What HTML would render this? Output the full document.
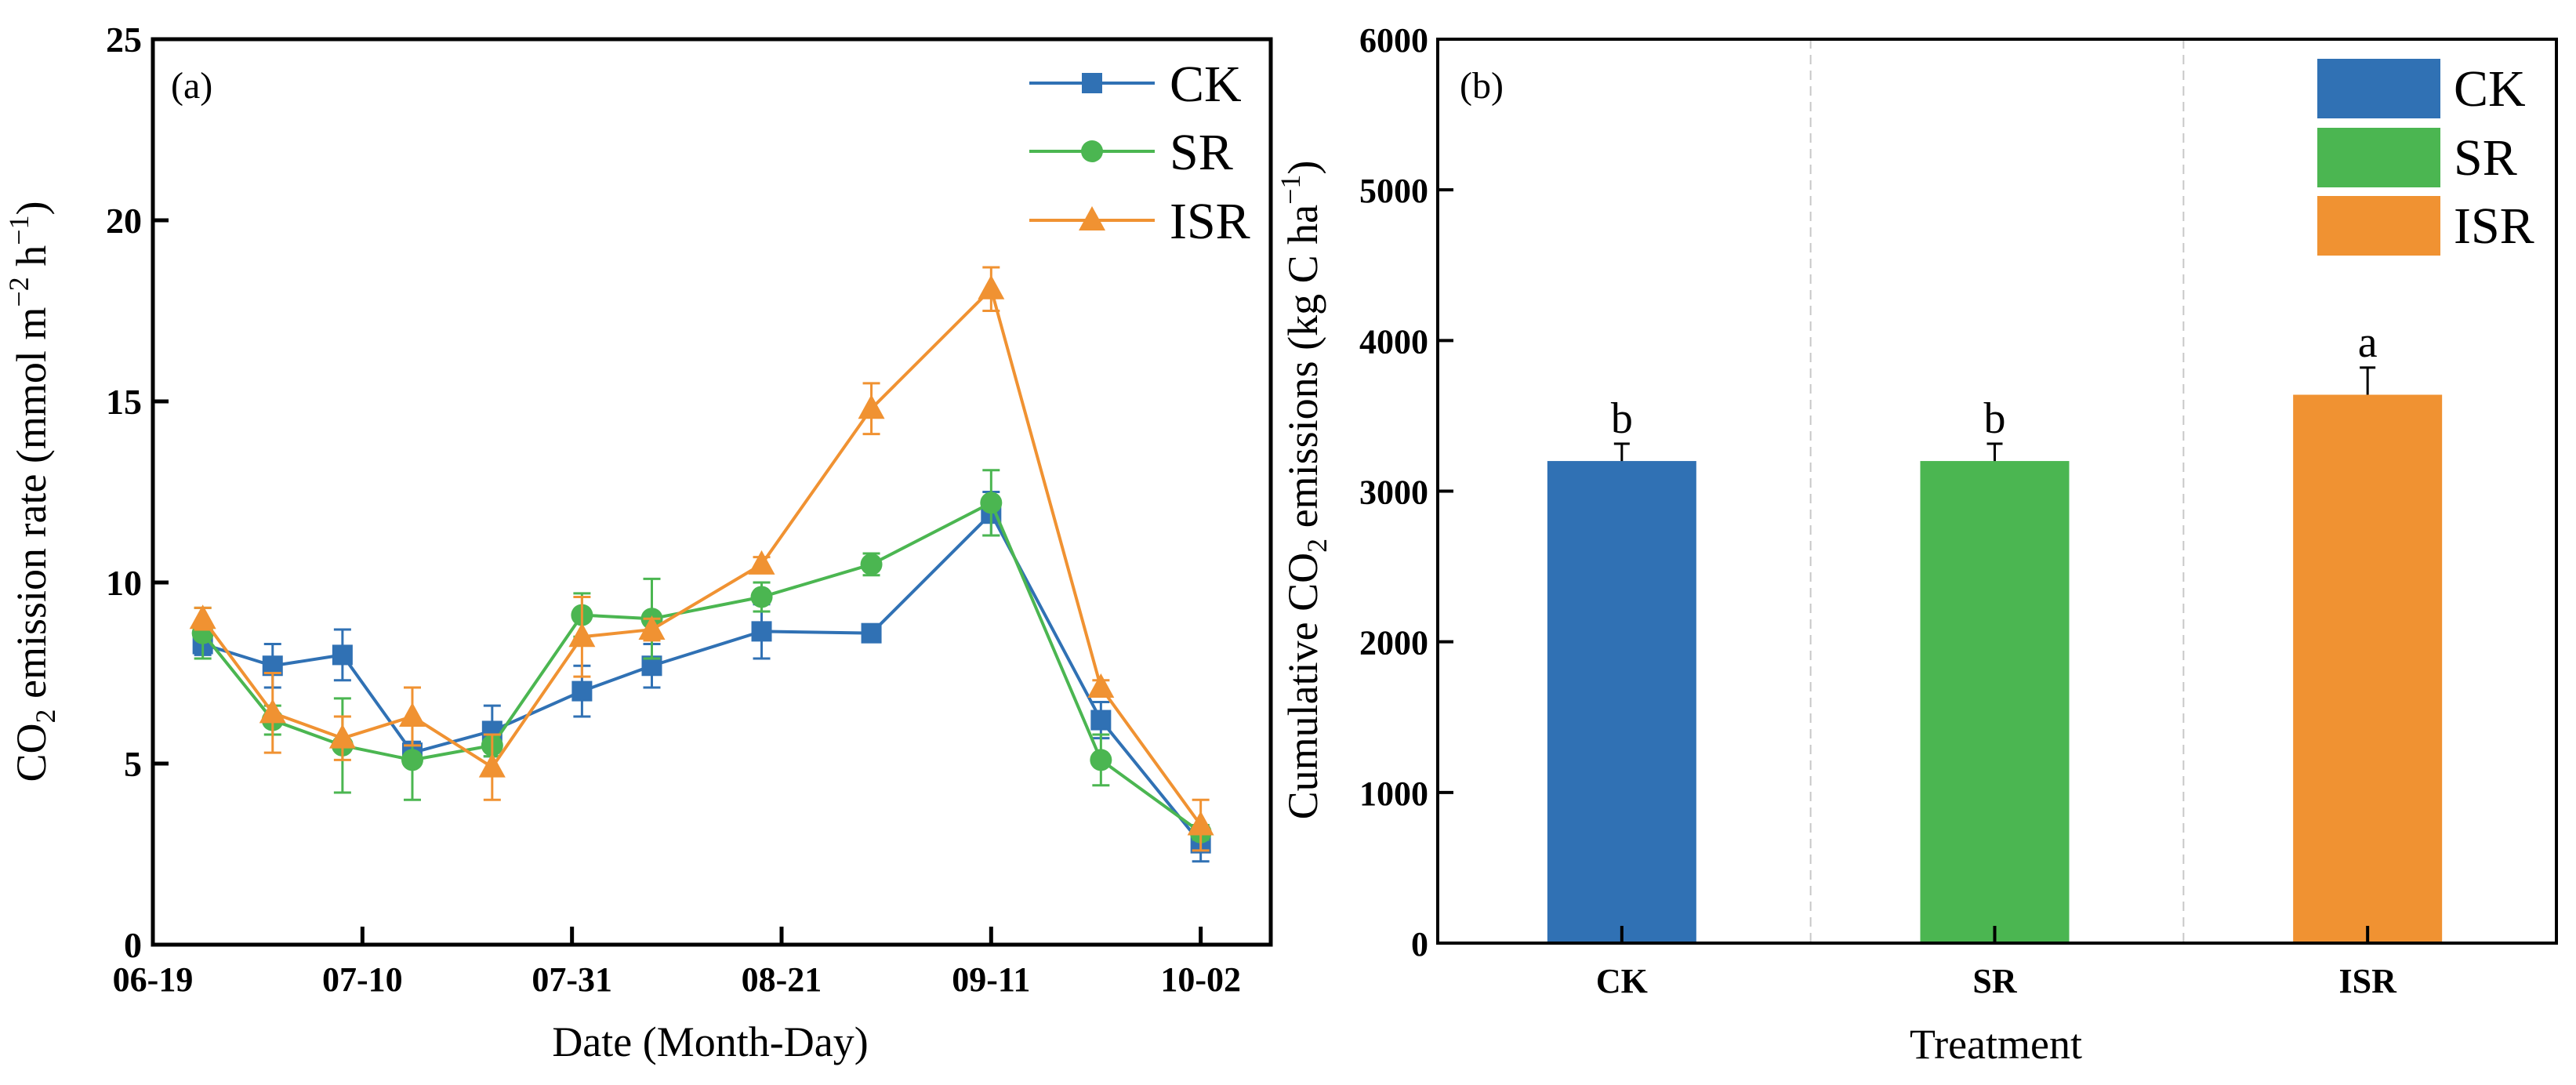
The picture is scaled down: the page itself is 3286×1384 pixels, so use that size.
<!DOCTYPE html>
<html><head><meta charset="utf-8"><style>
html,body{margin:0;padding:0;background:#fff;}
svg{display:block;font-family:"Liberation Serif",serif;}
</style></head><body>
<svg id="fig" width="3286" height="1384" viewBox="0 0 3286 1384" xmlns="http://www.w3.org/2000/svg">
<rect width="3286" height="1384" fill="#fff"/>
<g id="left"></g>
<g id="right"></g>
</svg>
<script>
// ---- Panel (a) data ----
const days = [5, 12, 19, 26, 34, 43, 50, 61, 72, 84, 95, 105];
const xTickLabels = ["06-19", "07-10", "07-31", "08-21", "09-11", "10-02"];
const xTickDays = [0, 21, 42, 63, 84, 105];
const yTicksA = [0, 5, 10, 15, 20, 25];
const ckVals = [8.3, 7.7, 8.0, 5.3, 5.9, 7.0, 7.7, 8.65, 8.6, 11.9, 6.2, 2.8];
const ckErr = [0.3, 0.6, 0.7, 0.3, 0.7, 0.7, 0.6, 0.75, 0.1, 0.6, 0.5, 0.5];
const srVals = [8.6, 6.2, 5.5, 5.1, 5.5, 9.1, 9.0, 9.6, 10.5, 12.2, 5.1, 3.1];
const srErr = [0.7, 0.4, 1.3, 1.1, 0.3, 0.6, 1.1, 0.4, 0.3, 0.9, 0.7, 0.2];
const isrVals = [9.0, 6.4, 5.7, 6.3, 4.9, 8.5, 8.7, 10.5, 14.8, 18.1, 7.1, 3.3];
const isrErr = [0.3, 1.1, 0.6, 0.8, 0.9, 1.1, 0.3, 0.2, 0.7, 0.6, 0.2, 0.7];
// ---- Panel (b) data ----
const treatments = ["CK", "SR", "ISR"];
const cumVals = [3200, 3200, 3640];
const cumErr = [115, 115, 180];
const cumLetters = ["b", "b", "a"];
const yTicksB = [0, 1000, 2000, 3000, 4000, 5000, 6000];

const NS = "http://www.w3.org/2000/svg";
const BLUE = "#3071b4", GREEN = "#4bb651", ORANGE = "#f09232";
function mk(parent, tag, attrs, text) {
  const e = document.createElementNS(NS, tag);
  for (const k in attrs) e.setAttribute(k, attrs[k]);
  if (text !== undefined) e.textContent = text;
  parent.appendChild(e);
  return e;
}
const L = document.getElementById("left");
const R = document.getElementById("right");

// ---- Panel (a) axes ----
const aL = 195, aR = 1621, aT = 50, aB = 1205;
const pxPerDay = 12.73;
const xA = d => aL + d * pxPerDay;
const yA = v => aB - (v / 25) * (aB - aT);

let fr = mk(L, "rect", {x: aL, y: aT, width: aR - aL, height: aB - aT, fill: "none", stroke: "#000", "stroke-width": 5});



yTicksA.forEach(v => {
  const t = mk(L, "line", {x1: aL, x2: aL + 20, y1: yA(v), y2: yA(v), stroke: "#000", "stroke-width": 5});
  
  
  const lb = mk(L, "text", {x: aL - 14, y: yA(v) + 16, "text-anchor": "end", "font-size": 46, "font-weight": "bold"}, String(v));
  
  
});
xTickDays.forEach((d, i) => {
  if (i > 0) {
    const t = mk(L, "line", {x1: xA(d), x2: xA(d), y1: aB, y2: aB - 23, stroke: "#000", "stroke-width": 5});
    
    
  }
  const lb = mk(L, "text", {x: xA(d), y: 1264, "text-anchor": "middle", "font-size": 44, "font-weight": "bold"}, xTickLabels[i]);
  
  
});

let xt = mk(L, "text", {x: 906, y: 1347, "text-anchor": "middle", "font-size": 54}, "Date (Month-Day)");


let yt = mk(L, "text", {transform: "translate(58,627) rotate(-90)", "text-anchor": "middle", "font-size": 54});


yt.innerHTML = 'CO<tspan font-size="36" dy="12">2</tspan><tspan dy="-12"> emission rate (mmol m</tspan><tspan font-size="36" dy="-22">−2</tspan><tspan dy="22"> h</tspan><tspan font-size="36" dy="-22">−1</tspan><tspan dy="22">)</tspan>';
let pa = mk(L, "text", {x: 218, y: 125, "font-size": 48}, "(a)");



function marker(g, shape, cx, cy, color) {
  if (shape === "sq") return mk(g, "rect", {x: cx - 13, y: cy - 13, width: 26, height: 26, fill: color});
  if (shape === "ci") return mk(g, "circle", {cx: cx, cy: cy, r: 14, fill: color});
  return mk(g, "polygon", {points: `${cx},${cy - 18} ${cx - 17},${cy + 13} ${cx + 17},${cy + 13}`, fill: color});
}
function series(name, vals, errs, color, shape) {
  const g = mk(L, "g", {});
  
  
  vals.forEach((v, i) => {
    const x = xA(days[i]), e = errs[i];
    const eb = mk(g, "path", {d: `M${x},${yA(v - e)}V${yA(v + e)}M${x - 11},${yA(v - e)}H${x + 11}M${x - 11},${yA(v + e)}H${x + 11}`, stroke: color, "stroke-width": 3, fill: "none"});
    
    
  });
  const ln = mk(g, "polyline", {points: vals.map((v, i) => xA(days[i]) + "," + yA(v)).join(" "), fill: "none", stroke: color, "stroke-width": 4, "stroke-linejoin": "round"});
  
  
  vals.forEach((v, i) => {
    const m = marker(g, shape, xA(days[i]), yA(v), color);
    
    
  });
}
series("ck", ckVals, ckErr, BLUE, "sq");
series("sr", srVals, srErr, GREEN, "ci");
series("isr", isrVals, isrErr, ORANGE, "tr");

// legend (a)
[["CK", BLUE, "sq", 106], ["SR", GREEN, "ci", 193], ["ISR", ORANGE, "tr", 281]].forEach(([n, c, s, y]) => {
  const g = mk(L, "g", {});
  
  
  mk(g, "line", {x1: 1313, x2: 1473, y1: y, y2: y, stroke: c, "stroke-width": 4});
  marker(g, s, 1393, y, c);
  mk(g, "text", {x: 1492, y: y + 23, "font-size": 66}, n);
});

// ---- Panel (b) ----
const bL = 1834, bR = 3261, bT = 50, bB = 1203;
const yB = v => bB - (v / 6000) * (bB - bT);
const slotW = (bR - bL) / 3;
const xB = i => bL + slotW * (i + 0.5) - 3;
const barW = 190;

[1, 2].forEach(k => {
  const d = mk(R, "line", {x1: bL + slotW * k, x2: bL + slotW * k, y1: bT, y2: bB, stroke: "#c8c8c8", "stroke-width": 2, "stroke-dasharray": "12,8"});
  
  
});
const barColors = [BLUE, GREEN, ORANGE];
cumVals.forEach((v, i) => {
  const x = xB(i);
  const b = mk(R, "rect", {x: x - barW / 2, y: yB(v), width: barW, height: bB - yB(v), fill: barColors[i]});
  
  
  const e = mk(R, "path", {d: `M${x},${yB(v)}V${yB(v + cumErr[i])}M${x - 10},${yB(v + cumErr[i])}H${x + 10}`, stroke: "#000", "stroke-width": 3, fill: "none"});
  
  
  const lt = mk(R, "text", {x: x, y: yB(v + cumErr[i]) - 14, "text-anchor": "middle", "font-size": 56}, cumLetters[i]);
  
  
  const tk = mk(R, "line", {x1: x, x2: x, y1: bB, y2: bB - 22, stroke: "#000", "stroke-width": 4});
  
  
  const tl = mk(R, "text", {x: x, y: 1266, "text-anchor": "middle", "font-size": 44, "font-weight": "bold"}, treatments[i]);
  
  
});
let frb = mk(R, "rect", {x: bL, y: bT, width: bR - bL, height: bB - bT, fill: "none", stroke: "#000", "stroke-width": 4});


yTicksB.forEach(v => {
  const t = mk(R, "line", {x1: bL, x2: bL + 20, y1: yB(v), y2: yB(v), stroke: "#000", "stroke-width": 4});
  
  
  const lb = mk(R, "text", {x: bL - 12, y: yB(v) + 16, "text-anchor": "end", "font-size": 44, "font-weight": "bold"}, String(v));
  
  
});
let xtb = mk(R, "text", {x: 2546, y: 1350, "text-anchor": "middle", "font-size": 54}, "Treatment");


let ytb = mk(R, "text", {transform: "translate(1680,625) rotate(-90)", "text-anchor": "middle", "font-size": 54});


ytb.innerHTML = 'Cumulative CO<tspan font-size="36" dy="12">2</tspan><tspan dy="-12"> emissions (kg C ha</tspan><tspan font-size="36" dy="-22">−1</tspan><tspan dy="22">)</tspan>';
let pb = mk(R, "text", {x: 1862, y: 125, "font-size": 48}, "(b)");


[["CK", BLUE, 75], ["SR", GREEN, 163], ["ISR", ORANGE, 250]].forEach(([n, c, y]) => {
  const g = mk(R, "g", {});
  
  
  mk(g, "rect", {x: 2956, y: y, width: 157, height: 76, fill: c});
  mk(g, "text", {x: 3130, y: y + 60, "font-size": 66}, n);
});
</script>
</body></html>
